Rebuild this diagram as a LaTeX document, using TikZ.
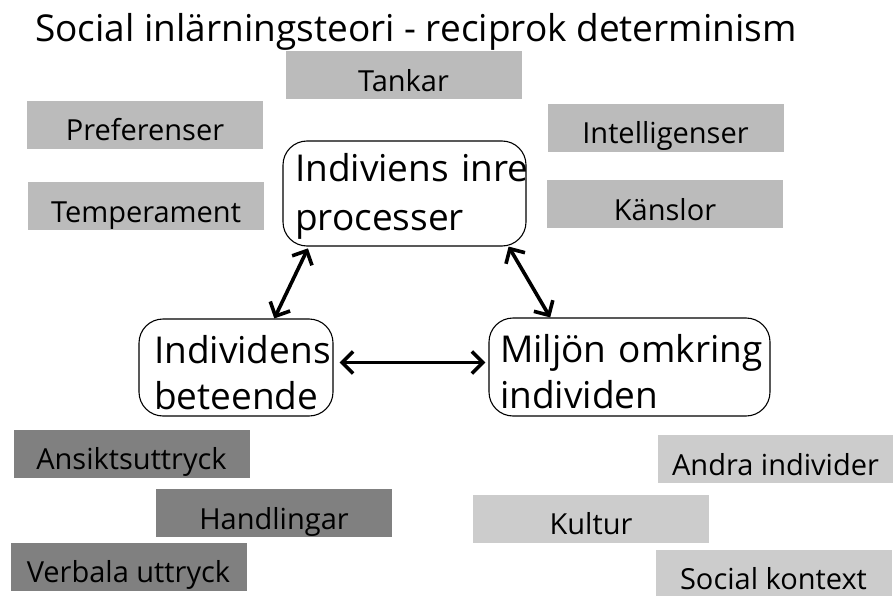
\documentclass[tikz,border=0pt]{standalone}
\usepackage{fontspec}
\setmainfont{Open Sans}
\usepackage{xcolor}
\usetikzlibrary{arrows.meta}

\definecolor{lightbar}{HTML}{BBBBBB}
\definecolor{darkbar}{HTML}{808080}
\definecolor{palebar}{HTML}{CCCCCC}

\begin{document}
\begin{tikzpicture}[x=1pt,y=-1pt,line join=round,
    tag/.style={inner sep=0pt,minimum width=236pt,text height=40pt,text depth=8pt,
      font=\fontsize{29}{32}\selectfont},
    part/.style={draw,line width=1.1pt,rounded corners=24pt,align=left,inner ysep=0pt,
      font=\fontsize{37}{49}\selectfont},
    link/.style={{Straight Barb[length=11pt,width=22pt]}-{Straight Barb[length=11pt,width=22pt]},
      line width=3.6pt}]
  \useasboundingbox (0,0) rectangle (893,596);
  % title
  \node[anchor=base west,inner sep=0pt,font=\fontsize{37}{40}\selectfont] (title) at (35,42)
    {Social inlärningsteori - reciprok determinism};
  % the three parts
  \node[part,minimum width=243pt,minimum height=105pt,text width=219pt] (inner) at (404.5,193.5)
    {\rule{0pt}{34pt}Indiviens~inre\\processer};
  \node[part,minimum width=194pt,minimum height=97pt,text width=164pt] (beh) at (236,367.5)
    {\rule{0pt}{39pt}Individens\\[-3pt]beteende};
  \node[part,minimum width=281pt,minimum height=98pt,text width=259pt] (env) at (629.5,367)
    {\rule{0pt}{38pt}Miljön~omkring\\[-3pt]individen};
  % inner processes
  \node[tag,fill=lightbar] (t1) at (403.5,75.5) {Tankar};
  \node[tag,fill=lightbar] (t2) at (145,125) {Preferenser};
  \node[tag,fill=lightbar] (t3) at (146,206) {Temperament};
  \node[tag,fill=lightbar] (t4) at (665.5,128) {Intelligenser};
  \node[tag,fill=lightbar] (t5) at (665,204) {Känslor};
  % behaviour
  \node[tag,fill=darkbar] (b1) at (131.5,453.5) {Ansiktsuttryck};
  \node[tag,fill=darkbar] (b2) at (274,513) {Handlingar};
  \node[tag,fill=darkbar] (b3) at (128.5,566.5) {Verbala uttryck};
  % environment
  \node[tag,fill=palebar] (e1) at (775.5,459) {Andra individer};
  \node[tag,fill=palebar] (e2) at (591,518.5) {Kultur};
  \node[tag,fill=palebar] (e3) at (773.5,573.5) {Social kontext};
  % arrows
  \draw[link,shorten <=2pt] (inner.209) -- (beh.52);
  \draw[link] (inner.333) -- (env.148);
  \draw[link,shorten <=6pt,shorten >=3pt] ([yshift=5pt]beh.east) -- ([yshift=5pt]beh.east -| env.west);
\end{tikzpicture}
\end{document}
